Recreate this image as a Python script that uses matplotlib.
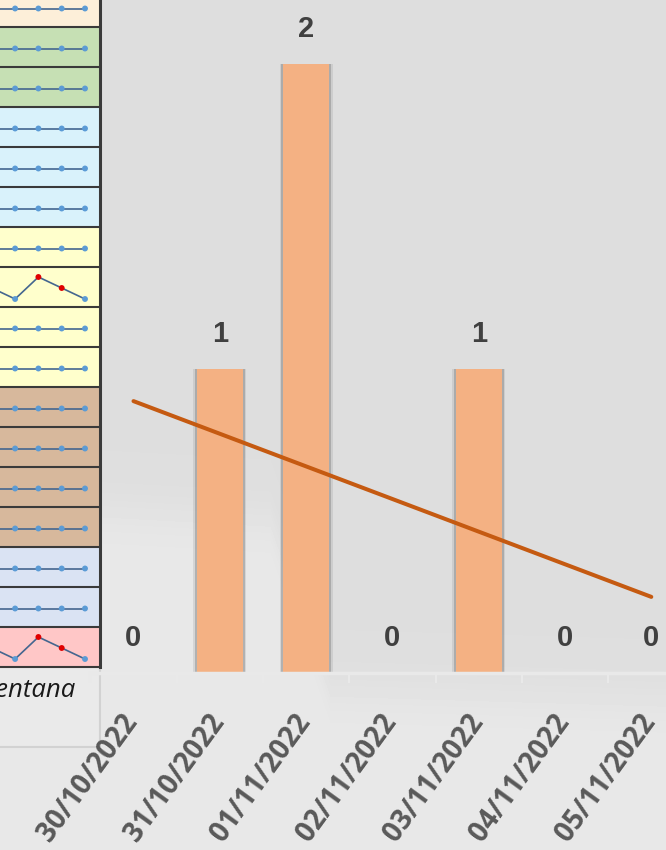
import matplotlib
matplotlib.use("Agg")
import matplotlib.pyplot as plt
import matplotlib.transforms as mtransforms
from matplotlib.patches import Rectangle
import numpy as np

# %% Data
dates = ["30/10/2022", "31/10/2022", "01/11/2022", "02/11/2022",
         "03/11/2022", "04/11/2022", "05/11/2022"]
counts = [0, 1, 2, 0, 1, 0, 0]

# cropped table on the left: row colours and sparkline values per row
row_colors = ["#FDEFD9",
              "#C6E0B4", "#C6E0B4",
              "#D9F2FB", "#D9F2FB", "#D9F2FB",
              "#FFFFCC", "#FFFFCC", "#FFFFCC", "#FFFFCC",
              "#D7B89C", "#D7B89C", "#D7B89C", "#D7B89C",
              "#DAE3F3", "#DAE3F3",
              "#FFC7C7"]
flat = [0, 0, 0, 0, 0]
bump = [1, 0, 2, 1, 0]
spark_values = [flat, flat, flat, flat, flat, flat, flat, bump, flat, flat,
                flat, flat, flat, flat, flat, flat, bump]
cell_text = "Ventana"

W, H = 666, 850
fig = plt.figure(figsize=(W / 100, H / 100), dpi=100)

# %% Background (soft grey gradient)
ax_bg = fig.add_axes([0, 0, 1, 1], zorder=0)
yy, xx = np.mgrid[0:H, 0:W]
yb = np.interp(xx, [0, 270, 330, 666], [505, 520, 690, 700])
t = 1 / (1 + np.exp(-(yy - yb) / 14))
val = 222 + 10 * t
ax_bg.imshow(val, cmap="gray", vmin=0, vmax=255, extent=(0, W, H, 0),
             aspect="auto", interpolation="bilinear")
ax_bg.set_axis_off()

# %% Left table
ax_tab = fig.add_axes([0, 0, 1, 1], zorder=1)
ax_tab.set_xlim(0, W)
ax_tab.set_ylim(H, 0)
ax_tab.set_axis_off()
ax_tab.patch.set_alpha(0)

row_h = 40
first_border = 27
xs_spark = [85 - 23.3 * (4 - k) for k in range(5)]
for r, (col, vals) in enumerate(zip(row_colors, spark_values)):
    top = first_border + (r - 1) * row_h
    ax_tab.add_patch(Rectangle((0, top), 100, row_h, facecolor=col, edgecolor="none"))
    vals = np.array(vals, dtype=float)
    if vals.max() == vals.min():
        ys = np.full(len(vals), top + 21.5)
    else:
        ys = top + 32 - (vals - vals.min()) / (vals.max() - vals.min()) * 22
    ax_tab.plot(xs_spark, ys, color="#44668F", lw=1.2, zorder=3)
    mcol = ["#E00000" if v > vals.min() else "#5B9BD5" for v in vals]
    ax_tab.scatter(xs_spark, ys, s=18, c=mcol, zorder=4, linewidths=0)

for r in range(len(row_colors)):
    y = first_border + r * row_h
    ax_tab.plot([0, 100], [y, y], color="#3A3A3A", lw=1.5, zorder=5)
ax_tab.plot([100, 100], [0, first_border + (len(row_colors) - 1) * row_h],
            color="#3A3A3A", lw=2.2, zorder=5)

# cell below the table
box_top = first_border + (len(row_colors) - 1) * row_h
ax_tab.add_patch(Rectangle((0, box_top), 100, 80, facecolor="#EAEAEA", edgecolor="none"))
ax_tab.plot([100, 100, 0], [box_top, box_top + 80, box_top + 80], color="#D2D2D2", lw=1.5)
ax_tab.text(76, 697, cell_text, ha="right", va="baseline", fontsize=18.5,
            style="italic", color="#1A1A1A", family=["Open Sans", "DejaVu Sans"])

# %% Chart
x0_px, step_px, base_px, unit_px = 133.5, 86.3, 673, 304.5
left_px = x0_px - 0.5 * step_px
ax = fig.add_axes([left_px / W, (H - base_px) / H, (W - left_px) / W, base_px / H], zorder=2)
ax.patch.set_alpha(0)

x = np.arange(len(dates))
bw = 0.53
ax.bar(x, counts, width=bw + 0.085, color="#6E6E6E", alpha=0.15, zorder=1)
ax.bar(x, counts, width=bw + 0.045, color="#6E6E6E", alpha=0.35, zorder=1)
ax.bar(x, counts, width=bw, color="#F4B183", zorder=2)

# linear trend line
coef = np.polyfit(x, counts, 1)
ax.plot([x[0], x[-1]], np.polyval(coef, [x[0], x[-1]]), color="#C55A11",
        lw=2.9, solid_capstyle="round", zorder=3)

label_font = ["Liberation Sans Narrow", "Liberation Sans", "DejaVu Sans"]
for xi, v in zip(x, counts):
    ax.annotate(str(v), (xi, v), xytext=(0, 25), textcoords="offset points",
                ha="center", va="center", fontsize=21, fontweight="bold",
                color="#404040", family=label_font, zorder=4)

for s in ["left", "right", "top"]:
    ax.spines[s].set_visible(False)
ax.spines["bottom"].set_color("#E9E9E9")
ax.spines["bottom"].set_linewidth(2.5)
ax.set_yticks([])

ax.set_xticks(x)
ax.set_xticks(np.arange(-0.5, len(dates) - 1, 1), minor=True)
ax.tick_params(axis="x", which="minor", length=7, width=1.5, color="#E9E9E9", direction="out")
ax.tick_params(axis="x", which="major", length=0, pad=32)
ax.set_xticklabels(dates, rotation=54, ha="right", va="center", rotation_mode="anchor",
                   fontsize=20, fontweight="bold", color="#595959",
                   family=["Open Sans", "DejaVu Sans"])
offset = mtransforms.ScaledTranslation(-1 / 100, 0, fig.dpi_scale_trans)
for lab in ax.get_xticklabels():
    lab.set_transform(lab.get_transform() + offset)

ax.set_xlim(-0.5, -0.5 + (W - left_px) / step_px)
ax.set_ylim(0, base_px / unit_px)

fig.savefig("out.png", dpi=100)
